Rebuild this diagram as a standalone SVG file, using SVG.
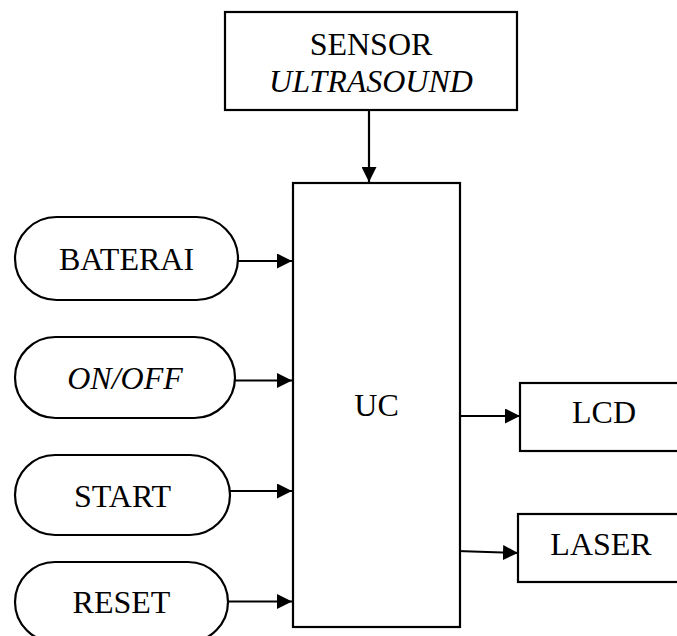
<svg xmlns="http://www.w3.org/2000/svg" width="677" height="636" viewBox="0 0 677 636">
<style>
.box{fill:#fff;stroke:#000;stroke-width:2.2}
.t{font-family:"Liberation Serif","Times New Roman",serif;font-size:32px;fill:#000;text-anchor:middle}
.i{font-style:italic}
.c{stroke:#000;stroke-width:2.2;fill:none;marker-end:url(#ah)}
</style>
<defs>
<marker id="ah" markerUnits="userSpaceOnUse" markerWidth="15" markerHeight="15" refX="15" refY="7.5" orient="auto">
<path d="M0,0 L15,7.5 L0,15 Z" fill="#000"/>
</marker>
</defs>
<rect width="677" height="636" fill="#fff"/>
<g id="connectors">
<line class="c" x1="369" y1="110" x2="369" y2="182"/>
<line class="c" x1="238" y1="261" x2="292" y2="261"/>
<line class="c" x1="235" y1="380.5" x2="292" y2="380.5"/>
<line class="c" x1="230" y1="491" x2="292" y2="491"/>
<line class="c" x1="228" y1="601.5" x2="292" y2="601.5"/>
<line class="c" x1="460" y1="416" x2="520" y2="416"/>
<line class="c" x1="457" y1="551" x2="518" y2="553"/>
</g>
<g id="sensor">
<rect class="box" x="225" y="12" width="292" height="98"/>
<text class="t" x="371" y="55">SENSOR</text>
<text class="t i" x="371" y="92">ULTRASOUND</text>
</g>
<g id="uc">
<rect class="box" x="293" y="183" width="167" height="444"/>
<text class="t" x="376.5" y="416">UC</text>
</g>
<g id="baterai">
<rect class="box" x="15" y="217" width="223" height="83" rx="41.5" ry="41.5"/>
<text class="t" x="126.5" y="270">BATERAI</text>
</g>
<g id="onoff">
<rect class="box" x="15" y="337" width="220" height="81" rx="40.5" ry="40.5"/>
<text class="t i" x="125" y="389">ON/OFF</text>
</g>
<g id="start">
<rect class="box" x="15" y="455" width="215" height="80" rx="40" ry="40"/>
<text class="t" x="122.5" y="507">START</text>
</g>
<g id="reset">
<rect class="box" x="15" y="562" width="213" height="80" rx="40" ry="40"/>
<text class="t" x="121.5" y="613">RESET</text>
</g>
<g id="lcd">
<rect class="box" x="520" y="383" width="170" height="68"/>
<text class="t" x="604" y="423">LCD</text>
</g>
<g id="laser">
<rect class="box" x="518" y="514" width="170" height="68"/>
<text class="t" x="601" y="555">LASER</text>
</g>
</svg>
